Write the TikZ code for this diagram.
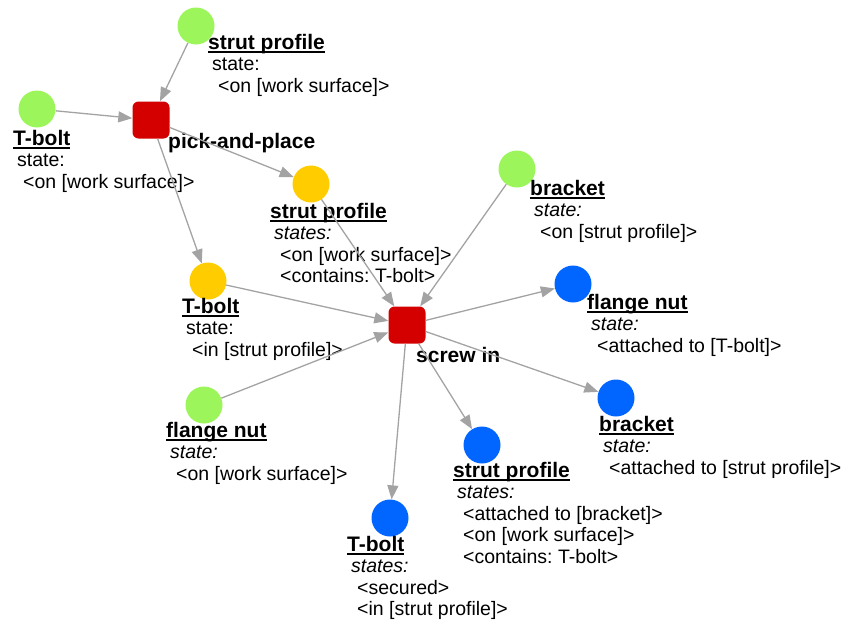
\documentclass[tikz,border=0pt]{standalone}
\usepackage{fontspec}
\setmainfont{Liberation Sans}
\usepackage{xcolor}
\usetikzlibrary{shapes.geometric, arrows.meta, positioning}
\frenchspacing

\definecolor{given}{HTML}{9CF55A}
\definecolor{partial}{HTML}{FFCC00}
\definecolor{result}{HTML}{0066FF}
\definecolor{action}{HTML}{D40000}
\definecolor{flow}{HTML}{A3A3A3}

% bold, underlined part name
\newcommand{\ptitle}[1]{{\fontsize{21}{22}\selectfont\bfseries\setbox0\hbox{#1}\rlap{\rule[-3.6pt]{\wd0}{1.8pt}}\box0}}
\newcommand{\stline}[1]{\hspace*{4pt}#1}
\newcommand{\itline}[1]{\hspace*{10pt}#1}

\begin{document}
\begin{tikzpicture}[x=1pt, y=-1pt, align=left]
    % Define styles
    \tikzstyle{inpart} = [circle, minimum size=37pt, inner sep=0pt, fill=given]
    \tikzstyle{midpart} = [circle, minimum size=37pt, inner sep=0pt, fill=partial]
    \tikzstyle{outpart} = [circle, minimum size=37pt, inner sep=0pt, fill=result]
    \tikzstyle{task} = [rectangle, rounded corners=6pt, minimum size=37pt, inner sep=0pt, fill=action]
    \tikzstyle{partlabel} = [anchor=north west, inner sep=0pt, font=\fontsize{19.5}{21.5}\selectfont]
    \tikzstyle{tasklabel} = [anchor=north west, inner sep=0pt, font=\fontsize{21}{22}\selectfont\bfseries]
    \tikzstyle{arrow} = [draw=flow, line width=1.3pt, -{Triangle[length=14pt, width=11pt]}]

    \useasboundingbox (0,0) rectangle (846,621);

    % Nodes
    \node (pick) [task] at (151,120) {};
    \node (screw) [task] at (407,325) {};

    \node (sp1) [inpart] at (196,26) {};
    \node (tb1) [inpart] at (37,109) {};
    \node (sp2) [midpart] at (311,184) {};
    \node (tb2) [midpart] at (208,281) {};
    \node (br1) [inpart] at (517,169) {};
    \node (fn1) [inpart] at (204,405) {};
    \node (fn2) [outpart] at (573,284) {};
    \node (br2) [outpart] at (616,398) {};
    \node (sp3) [outpart] at (482,445) {};
    \node (tb3) [outpart] at (390,518) {};

    % Labels
    \node (pickl) [tasklabel] at (168,133) {pick-and-place};
    \node (screwl) [tasklabel] at (416,347) {screw in};
    \node (sp1l) [partlabel] at (208,34) {\ptitle{strut profile}\\ \stline{state:}\\ \itline{<on [work surface]>}};
    \node (tb1l) [partlabel] at (13,130) {\ptitle{T-bolt}\\ \stline{state:}\\ \itline{<on [work surface]>}};
    \node (sp2l) [partlabel] at (270,203) {\ptitle{strut profile}\\ \stline{\itshape states:}\\ \itline{<on [work surface]>}\\ \itline{<contains: T-bolt>}};
    \node (br1l) [partlabel] at (530,180) {\ptitle{bracket}\\ \stline{\itshape state:}\\ \itline{<on [strut profile]>}};
    \node (tb2l) [partlabel] at (182,298) {\ptitle{T-bolt}\\ \stline{state:}\\ \itline{<in [strut profile]>}};
    \node (fn2l) [partlabel] at (587,294) {\ptitle{flange nut}\\ \stline{\itshape state:}\\ \itline{<attached to [T-bolt]>}};
    \node (fn1l) [partlabel] at (166,422) {\ptitle{flange nut}\\ \stline{\itshape state:}\\ \itline{<on [work surface]>}};
    \node (br2l) [partlabel] at (599,416) {\ptitle{bracket}\\ \stline{\itshape state:}\\ \itline{<attached to [strut profile]>}};
    \node (sp3l) [partlabel] at (453,462) {\ptitle{strut profile}\\ \stline{\itshape states:}\\ \itline{<attached to [bracket]>}\\ \itline{<on [work surface]>}\\ \itline{<contains: T-bolt>}};
    \node (tb3l) [partlabel] at (347,536) {\ptitle{T-bolt}\\ \stline{\itshape states:}\\ \itline{<secured>}\\ \itline{<in [strut profile]>}};

    % Arrows
    \draw [arrow] (sp1) -- (pick);
    \draw [arrow] (tb1) -- (pick);
    \draw [arrow] (pick) -- (sp2);
    \draw [arrow] (pick) -- (tb2);
    \draw [arrow] (sp2) -- (screw);
    \draw [arrow] (tb2) -- (screw);
    \draw [arrow] (br1) -- (screw);
    \draw [arrow] (fn1) -- (screw);
    \draw [arrow] (screw) -- (fn2);
    \draw [arrow] (screw) -- (br2);
    \draw [arrow] (screw) -- (sp3);
    \draw [arrow] (screw) -- (tb3);
\end{tikzpicture}
\end{document}
